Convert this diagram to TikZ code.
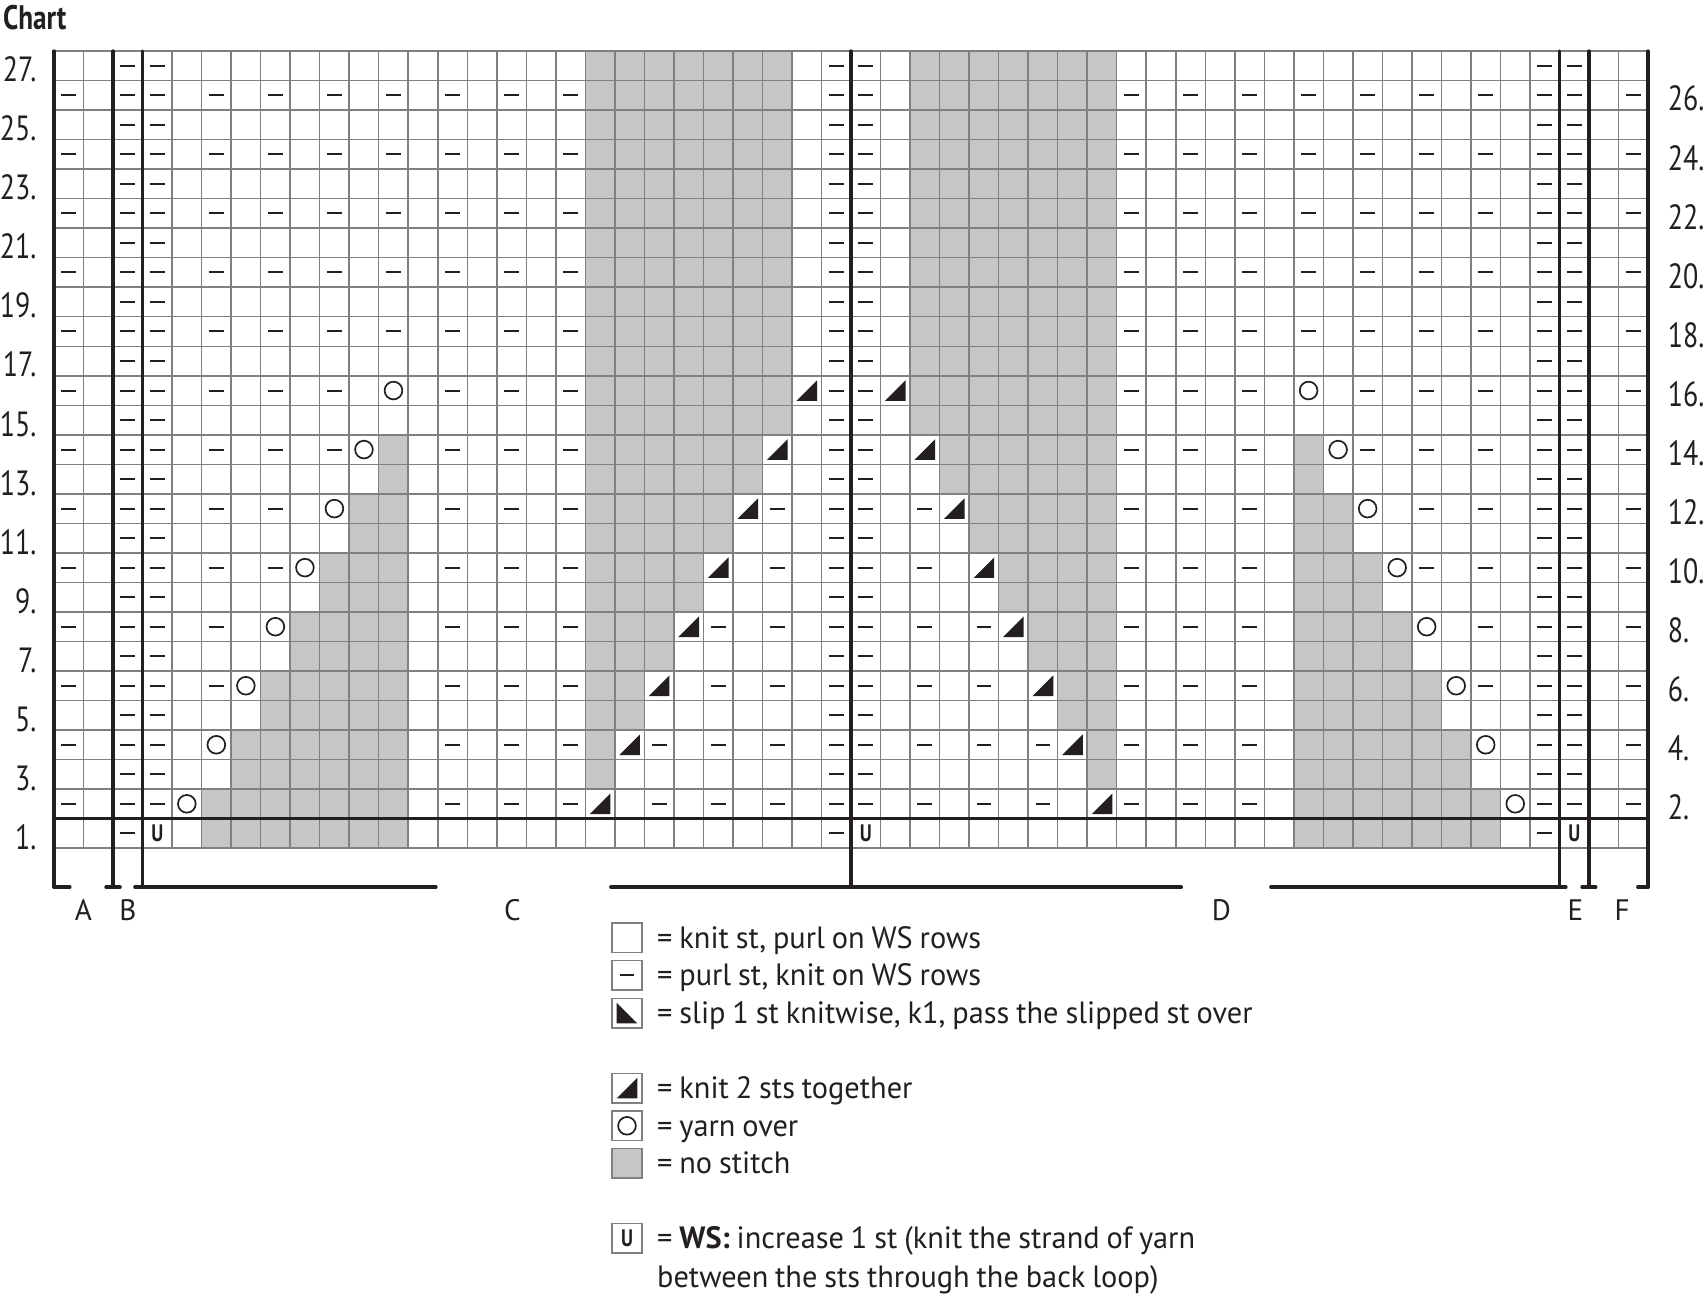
\documentclass[tikz,border=0pt]{standalone}
\usepackage{fontspec}
\setmainfont[FakeStretch=0.985, WordSpace=0.85]{PT Sans}
\newfontfamily\narrowfont[FakeStretch=0.8]{PT Sans}
\usepackage{tikz}
\definecolor{ink}{HTML}{231F20}
\definecolor{gridgray}{HTML}{808080}
\definecolor{nostgray}{HTML}{C6C6C6}

\begin{document}
\begin{tikzpicture}[x=14.76pt, y=14.76pt,
    gridline/.style={gridgray, line width=0.75pt},
    heavy/.style={ink, line width=1.65pt, line cap=round},
    nost/.style={fill=nostgray},
    purlmark/.style={ink, line width=1pt},
    pics/purl/.style={code={\draw[purlmark] (-0.25,0) -- (0.25,0);}},
    pics/yo/.style={code={\draw[ink, line width=0.85pt] (0,0) circle (0.3);}},
    pics/ktog/.style={code={\fill[ink] (-0.35,-0.35) -- (0.35,-0.35) -- (0.35,0.35) -- cycle;}},
    pics/skp/.style={code={\fill[ink] (-0.35,0.35) -- (-0.35,-0.35) -- (0.35,-0.35) -- cycle;}},
    rownum/.style={font=\narrowfont\fontsize{17.5}{20}\selectfont, text=ink, inner sep=0pt},
    secletter/.style={font=\fontsize{14.8}{17}\selectfont, text=ink, inner sep=0pt, anchor=base},
    legtext/.style={font=\fontsize{15.4}{18}\selectfont, text=ink, inner sep=0pt, anchor=base west},
    legbox/.style={draw=gridgray, line width=0.8pt, inner sep=0pt, minimum width=15.2pt, minimum height=14.76pt},
    incmark/.style={font=\narrowfont\bfseries\fontsize{11.9}{13}\selectfont, text=ink, inner sep=0pt}]

    \useasboundingbox (-1.829,-15.31) rectangle (56.03,28.73);

    % left half, then the mirrored right half
    \foreach \sx/\flip in {0/1, 54/-1} {
    \begin{scope}[shift={(\sx,0)}, xscale=\flip]
        \foreach \cl in {5,...,11} {\fill[nost] (\cl,0) rectangle ++(1,1);}
        % WS rows
        \foreach \kk in {1,...,13} {
            \pgfmathtruncatemacro{\rw}{2*\kk}
            \pic at (0.5,\rw-0.5) {purl};
            \pic at (2.5,\rw-0.5) {purl};
            \ifnum\kk<9
                \pgfmathtruncatemacro{\yo}{3+\kk}
                \pgfmathtruncatemacro{\kt}{17+\kk}
                \foreach \cl in {3,5,...,17} {
                    \ifnum\cl<\yo \pic at (\cl+0.5,\rw-0.5) {purl};\fi
                    \ifnum\cl>11 \pic at (\cl+0.5,\rw-0.5) {purl};\fi
                }
                \pic at (\yo+0.5,\rw-0.5) {yo};
                \foreach \cl in {5,...,11} {\ifnum\cl>\yo \fill[nost] (\cl,\rw-1) rectangle ++(1,1);\fi}
                \pic at (\kt+0.5,\rw-0.5) {ktog};
                \foreach \cl in {18,...,24} {\ifnum\cl<\kt \fill[nost] (\cl,\rw-1) rectangle ++(1,1);\fi}
                \foreach \cl in {20,22,24,26} {\ifnum\cl>\kt \pic at (\cl+0.5,\rw-0.5) {purl};\fi}
            \else
                \foreach \cl in {3,5,...,17} {\pic at (\cl+0.5,\rw-0.5) {purl};}
                \foreach \cl in {18,...,24} {\fill[nost] (\cl,\rw-1) rectangle ++(1,1);}
                \pic at (26.5,\rw-0.5) {purl};
            \fi
        }
        % RS rows
        \foreach \kk in {1,...,13} {
            \pgfmathtruncatemacro{\rw}{2*\kk+1}
            \foreach \cl in {2,3,26} {\pic at (\cl+0.5,\rw-0.5) {purl};}
            \foreach \cl in {6,...,11} {\ifnum\cl>\numexpr4+\kk\relax \fill[nost] (\cl,\rw-1) rectangle ++(1,1);\fi}
            \foreach \cl in {18,...,24} {\ifnum\cl<\numexpr18+\kk\relax \fill[nost] (\cl,\rw-1) rectangle ++(1,1);\fi}
        }
    \end{scope}
    }

    % row 1
    \foreach \cl in {2,26,50} {\pic at (\cl+0.5,0.5) {purl};}
    \foreach \cl/\nm in {3/inc1, 27/inc2, 51/inc3} {\node[incmark] (\nm) at (\cl+0.5,0.5) {U};}

    \foreach \cl in {0,...,54} {\draw[gridline] (\cl,0) -- (\cl,27);}
    \foreach \rw in {0,...,27} {\draw[gridline] (0,\rw) -- (54,\rw);}

    \foreach \cl in {0,2,3,27,51,52,54} {\draw[heavy] (\cl,27) -- (\cl,-1.32);}
    \draw[heavy] (0,1) -- (54,1);
    \draw[heavy] (0,-1.32) -- (0.54,-1.32);
    \draw[heavy] (1.76,-1.32) -- (2.24,-1.32);
    \draw[heavy] (2.74,-1.32) -- (12.94,-1.32);
    \draw[heavy] (18.86,-1.32) -- (38.19,-1.32);
    \draw[heavy] (41.22,-1.32) -- (51.22,-1.32);
    \draw[heavy] (51.76,-1.32) -- (52.23,-1.32);
    \draw[heavy] (53.65,-1.32) -- (54,-1.32);

    \foreach \rw in {1,3,...,27} {\node[rownum, anchor=base east] (left\rw) at (-0.586,\rw-1.04) {\rw.};}
    \foreach \rw in {2,4,...,26} {\node[rownum, anchor=base west] (right\rw) at (54.66,\rw-1.03) {\rw.};}
    \foreach \s/\x in {A/1.0, B/2.5, C/15.53, D/39.55, E/51.54, F/53.12} {\node[secletter] (sec\s) at (\x,-2.46) {\s};}

    \node[anchor=base west, inner sep=0pt, text=ink, font=\narrowfont\bfseries\fontsize{17}{20}\selectfont] (title) at (-1.738,27.73) {Chart};

    % key
    \node[legbox] (key1) at (19.41,-3.042) {};
    \node[legbox] (key2) at (19.41,-4.302) {};
    \node[legbox] (key3) at (19.41,-5.589) {};
    \node[legbox] (key4) at (19.41,-8.13) {};
    \node[legbox] (key5) at (19.41,-9.407) {};
    \node[legbox, fill=nostgray] (key6) at (19.41,-10.68) {};
    \node[legbox, incmark] (key7) at (19.41,-13.21) {U};
    \pic at (key2.center) {purl};
    \pic at (key3.center) {skp};
    \pic at (key4.center) {ktog};
    \pic at (key5.center) {yo};

    \node[legtext] (txt1) at (20.42,-3.398) {= knit st, purl on WS rows};
    \node[legtext] (txt2) at (20.42,-4.658) {= purl st, knit on WS rows};
    \node[legtext] (txt3) at (20.42,-5.945) {= slip 1 st knitwise, k1, pass the slipped st over};
    \node[legtext] (txt4) at (20.42,-8.486) {= knit 2 sts together};
    \node[legtext] (txt5) at (20.42,-9.763) {= yarn over};
    \node[legtext] (txt6) at (20.42,-11.036) {= no stitch};
    \node[legtext] (txt7) at (20.42,-13.566) {= \textbf{WS:} increase 1 st (knit the strand of yarn};
    \node[legtext] (txt8) at (20.42,-14.87) {between the sts through the back loop)};
\end{tikzpicture}
\end{document}
